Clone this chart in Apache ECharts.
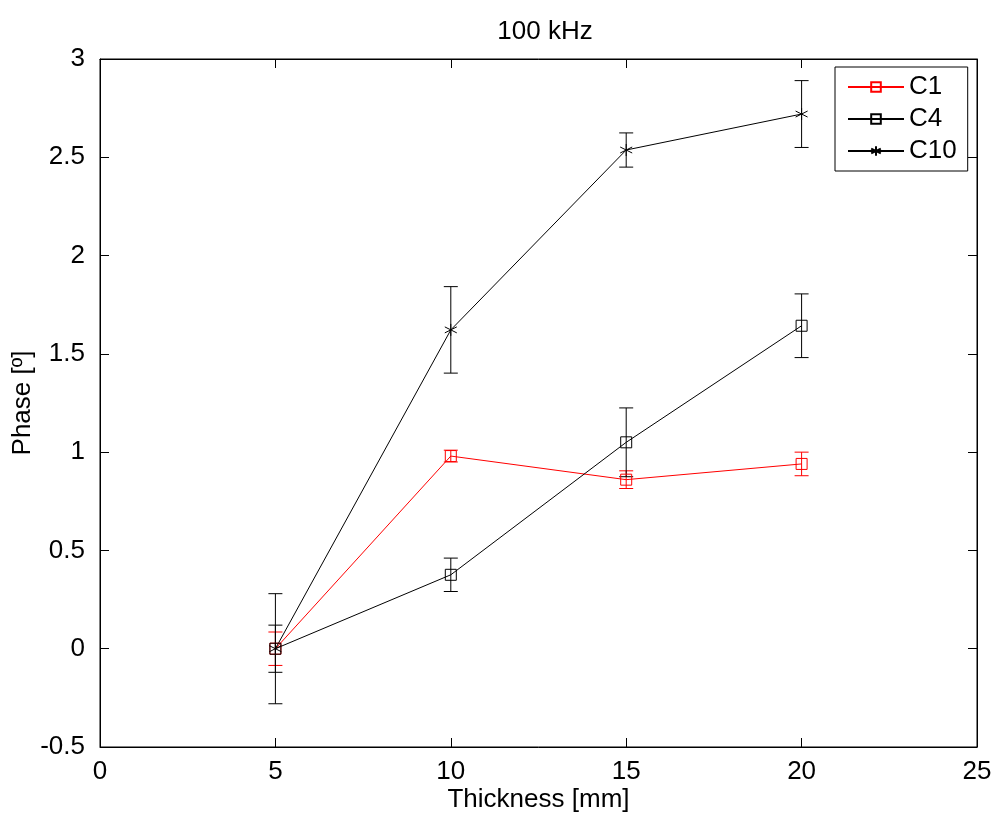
<!DOCTYPE html>
<html><head><meta charset="utf-8">
<script src="https://cdn.jsdelivr.net/npm/echarts@6/dist/echarts.min.js"></script>
<style>html,body{margin:0;padding:0;background:#fff}#c{width:1001px;height:833px}</style>
</head><body><div id="c"></div>
<script>
const thickness = [5, 10, 15, 20];
const c1 = [0, 0.98, 0.86, 0.94];
const c1Err = [0.085, 0.03, 0.045, 0.06];
const c4 = [0, 0.376, 1.05, 1.643];
const c4Err = [0.12, 0.085, 0.175, 0.162];
const c10 = [0, 1.622, 2.537, 2.72];
const c10Err = [0.28, 0.22, 0.087, 0.17];
const xTicks = [0, 5, 10, 15, 20, 25];
const yTicks = [-0.5, 0, 0.5, 1, 1.5, 2, 2.5, 3];

const FONT = 'Liberation Sans, Arial, sans-serif';
const ASTER = 'path://M0,-1L0,1M-0.87,-0.5L0.87,0.5M-0.87,0.5L0.87,-0.5';

function pts(v){ return thickness.map((x,i)=>[x, v[i]]); }
function errData(v, e){ return thickness.map((x,i)=>[x, v[i]-e[i], v[i]+e[i]]); }
function errSeries(name, v, e, color){
  return {
    type:'custom', name: name+'_err', silent:true, z:1,
    data: errData(v,e),
    renderItem: function(params, api){
      const x = api.value(0);
      const lo = api.coord([x, api.value(1)]);
      const hi = api.coord([x, api.value(2)]);
      const w = 7;
      const st = {stroke: color, lineWidth: 1, fill: 'none'};
      return {type:'group', children:[
        {type:'line', shape:{x1:lo[0], y1:lo[1], x2:hi[0], y2:hi[1]}, style:st},
        {type:'line', shape:{x1:lo[0]-w, y1:lo[1], x2:lo[0]+w, y2:lo[1]}, style:st},
        {type:'line', shape:{x1:hi[0]-w, y1:hi[1], x2:hi[0]+w, y2:hi[1]}, style:st}
      ]};
    }
  };
}

function axisCommon(){
  return {
    axisLine:{show:true, onZero:false, lineStyle:{color:'#000', width:1}},
    axisTick:{show:true, inside:true, length:9, lineStyle:{color:'#000'}},
    splitLine:{show:false}
  };
}

const chart = echarts.init(document.getElementById('c'));
chart.setOption({
  animation:false,
  backgroundColor:'#fff',
  title:{text:'100 kHz', left:540, top:14, textAlign:'center',
    textStyle:{fontFamily:FONT, fontSize:26, fontWeight:'normal', color:'#000'}},
  grid:{left:100, right:24, top:59, bottom:86, show:true, borderColor:'#000', borderWidth:1,
    backgroundColor:'#fff', containLabel:false, outerBoundsMode:'none'},
  legend:{
    data:['C1','C4','C10'], orient:'vertical', left:835, top:67,
    padding:[7,11,7,12], itemGap:6, itemWidth:56, itemHeight:12,
    backgroundColor:'#fff', borderColor:'#000', borderWidth:1, borderRadius:0,
    textStyle:{fontFamily:FONT, fontSize:26, color:'#000'}
  },
  xAxis:[
    Object.assign({type:'value', min:0, max:25, interval:5, position:'bottom',
      name:'Thickness [mm]', nameLocation:'middle', nameGap:40, nameMoveOverlap:false,
      nameTextStyle:{fontFamily:FONT, fontSize:26, color:'#000'},
      axisLabel:{fontFamily:FONT, fontSize:26, color:'#000', margin:12}}, axisCommon()),
    Object.assign({type:'value', min:0, max:25, interval:5, position:'top',
      axisLabel:{show:false}}, axisCommon())
  ],
  yAxis:[
    Object.assign({type:'value', min:-0.5, max:3, interval:0.5, position:'left',
      name:'Phase [º]', nameLocation:'middle', nameGap:64, nameMoveOverlap:false,
      nameTextStyle:{fontFamily:FONT, fontSize:26, color:'#000'},
      axisLabel:{fontFamily:FONT, fontSize:26, color:'#000', margin:15,
        formatter: v => String(v)}}, axisCommon()),
    Object.assign({type:'value', min:-0.5, max:3, interval:0.5, position:'right',
      axisLabel:{show:false}}, axisCommon())
  ],
  series:[
    errSeries('C1', c1, c1Err, '#ff0000'),
    errSeries('C4', c4, c4Err, '#000'),
    errSeries('C10', c10, c10Err, '#000'),
    {type:'line', name:'C1', data:pts(c1), z:3, symbol:'rect', symbolSize:11,
      lineStyle:{color:'#ff0000', width:1},
      itemStyle:{color:'rgba(0,0,0,0)', borderColor:'#ff0000', borderWidth:1}},
    {type:'line', name:'C4', data:pts(c4), z:3, symbol:'rect', symbolSize:11,
      lineStyle:{color:'#000', width:1},
      itemStyle:{color:'rgba(0,0,0,0)', borderColor:'#000', borderWidth:1}},
    {type:'line', name:'C10', data:pts(c10), z:3, symbol:ASTER, symbolSize:12,
      lineStyle:{color:'#000', width:1},
      itemStyle:{color:'rgba(0,0,0,0)', borderColor:'#000', borderWidth:1}}
  ]
});
</script></body></html>
